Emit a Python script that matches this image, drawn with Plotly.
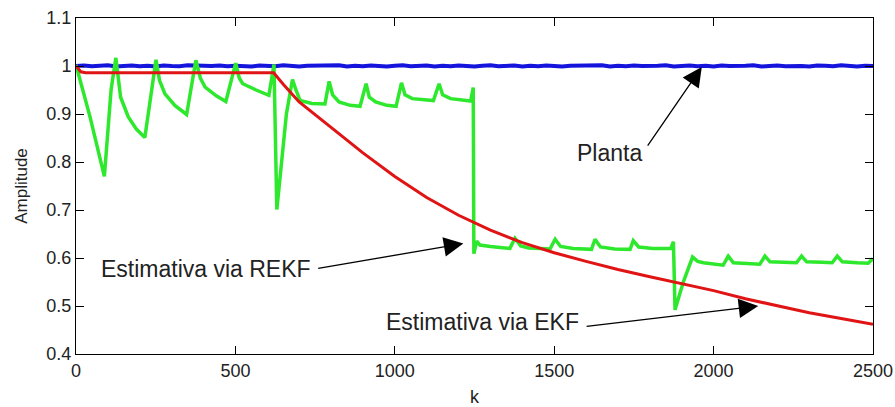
import plotly.graph_objects as go

# ---------------- data ----------------
# Planta (blue): nearly constant ~1 with slight jitter, sampled every 25 k
blue_k = list(range(0, 2501, 25))
blue_v = [1.000, 1.001, 0.9995, 1.0005, 1.0015, 0.999, 1.000, 1.001, 0.9995, 1.0005,
          0.999, 1.001, 1.000, 0.9995, 1.0015, 1.0005, 0.999, 1.000, 1.001, 0.9995,
          1.0005, 1.000, 0.999, 1.001, 1.0005, 0.9995, 1.0015, 1.000, 0.999, 1.0005,
          1.001, 0.9995, 1.000, 1.0015, 0.999, 1.0005, 0.9995, 1.001, 1.000, 0.999,
          1.0005, 1.0015, 0.9995, 1.000, 1.001, 0.999, 1.0005, 0.9995, 1.001, 1.000,
          0.999, 1.0005, 1.0015, 0.9995, 1.000, 1.001, 0.999, 1.0005, 0.9995, 1.001,
          1.000, 0.999, 1.0005, 1.001, 0.9995, 1.000, 1.0015, 0.999, 1.0005, 0.9995,
          1.001, 1.000, 0.9995, 1.0005, 1.0015, 0.999, 1.000, 1.001, 0.9995, 1.0005,
          0.999, 1.001, 1.000, 0.9995, 1.0005, 1.0015, 0.999, 1.000, 1.001, 0.9995,
          1.0005, 1.000, 0.999, 1.001, 1.0005, 0.9995, 1.0015, 1.000, 0.999, 1.0005, 1.000]

# Estimativa via EKF (red)
red_k = [0, 15, 30, 620, 650, 700, 800, 900, 1000, 1100, 1200, 1300, 1400, 1500,
         1600, 1700, 1800, 1900, 2000, 2100, 2200, 2300, 2400, 2500]
red_v = [1.000, 0.988, 0.986, 0.986, 0.962, 0.925, 0.872, 0.819, 0.770, 0.726,
         0.689, 0.658, 0.632, 0.611, 0.593, 0.576, 0.561, 0.547, 0.532, 0.515,
         0.500, 0.486, 0.474, 0.462]

# Estimativa via REKF (green)
green_k = [0, 5, 44, 89, 110, 125, 140, 164, 190, 216, 251,
           262, 279, 310, 347, 376,
           390, 405, 440, 470, 501,
           512, 523, 565, 605, 621,
           630, 660, 679,
           690, 703, 740, 781, 794,
           805, 825, 860, 891, 910,
           920, 940, 975, 1004, 1021,
           1032, 1055, 1090, 1121, 1139,
           1150, 1175, 1210, 1238, 1246, 1248,
           1257, 1267, 1300, 1361, 1377, 1395, 1420, 1487, 1503, 1520, 1560,
           1617, 1628, 1645, 1690, 1738, 1748, 1765, 1810, 1866, 1874, 1879,
           1905, 1934, 1950, 1968, 2030, 2046, 2062, 2100, 2145, 2161, 2177,
           2220, 2260, 2276, 2292, 2340, 2372, 2388, 2404, 2450, 2485, 2500]
green_v = [1.002, 0.990, 0.894, 0.770, 0.950, 1.017, 0.935, 0.894, 0.868, 0.851, 1.013,
           0.970, 0.942, 0.918, 0.899, 1.012,
           0.975, 0.956, 0.938, 0.926, 1.006,
           0.975, 0.963, 0.950, 0.939, 1.003,
           0.701, 0.900, 0.972,
           0.950, 0.928, 0.922, 0.921, 0.968,
           0.940, 0.925, 0.918, 0.916, 0.963,
           0.935, 0.925, 0.918, 0.916, 0.965,
           0.940, 0.932, 0.929, 0.928, 0.963,
           0.940, 0.932, 0.929, 0.927, 0.955, 0.609,
           0.635, 0.627, 0.624, 0.620, 0.641, 0.625, 0.621, 0.619, 0.639, 0.624, 0.620,
           0.618, 0.639, 0.623, 0.619, 0.618, 0.636, 0.623, 0.620, 0.620, 0.634, 0.492,
           0.550, 0.602, 0.593, 0.590, 0.585, 0.604, 0.590, 0.588, 0.587, 0.604, 0.592,
           0.591, 0.590, 0.604, 0.592, 0.591, 0.590, 0.604, 0.592, 0.590, 0.589, 0.599]

x_ticks = [0, 500, 1000, 1500, 2000, 2500]
y_ticks = [0.4, 0.5, 0.6, 0.7, 0.8, 0.9, 1.0, 1.1]
y_ticktext = ["0.4", "0.5", "0.6", "0.7", "0.8", "0.9", "1", "1.1"]

FONT = "Liberation Sans, Arial, sans-serif"

fig = go.Figure()
fig.add_trace(go.Scatter(x=blue_k, y=blue_v, mode="lines",
                         line=dict(color="#1414dc", width=4), name="Planta"))
fig.add_trace(go.Scatter(x=green_k, y=green_v, mode="lines",
                         line=dict(color="#2ee82e", width=3.5), name="REKF"))
fig.add_trace(go.Scatter(x=red_k, y=red_v, mode="lines",
                         line=dict(color="#e01414", width=3), name="EKF"))

# arrows (tip x,y ; tail ax,ay)
arrows = [
    dict(x=1963, y=0.998, ax=1790, ay=0.831),
    dict(x=1215, y=0.630, ax=755, ay=0.578),
    dict(x=2140, y=0.500, ax=1597, ay=0.457),
]
for a in arrows:
    fig.add_annotation(x=a["x"], y=a["y"], ax=a["ax"], ay=a["ay"],
                       xref="x", yref="y", axref="x", ayref="y",
                       text="", showarrow=True, arrowhead=2, arrowsize=3.0,
                       arrowwidth=1.3, arrowcolor="black", standoff=0, startstandoff=0)

labels = [
    dict(x=1781, y=0.818, text="Planta"),
    dict(x=743, y=0.577, text="Estimativa via REKF"),
    dict(x=1584, y=0.466, text="Estimativa via EKF"),
]
for t in labels:
    fig.add_annotation(x=t["x"], y=t["y"], xref="x", yref="y", text=t["text"],
                       showarrow=False, xanchor="right", yanchor="middle",
                       font=dict(family=FONT, size=23, color="#222222"))

# x-axis title "k" placed below the tick labels
fig.add_annotation(x=0.5, y=-0.128, xref="paper", yref="paper", text="k",
                   showarrow=False, xanchor="center", yanchor="middle",
                   font=dict(family=FONT, size=18, color="#222222"))

axis_common = dict(showline=True, linecolor="black", linewidth=1, mirror="allticks",
                   ticks="inside", ticklen=8, tickwidth=1, tickcolor="black",
                   showgrid=False, zeroline=False, automargin=False,
                   tickfont=dict(family=FONT, size=18, color="#222222"))

fig.update_xaxes(range=[0, 2500], tickvals=x_ticks, ticktext=[str(v) for v in x_ticks],
                 **axis_common)
fig.update_yaxes(range=[0.4, 1.1], tickvals=y_ticks, ticktext=y_ticktext,
                 title=dict(text="Amplitude", font=dict(family=FONT, size=17, color="#222222"), standoff=14),
                 **axis_common)

fig.update_layout(width=895, height=407, margin=dict(l=76, r=22, t=18, b=53),
                  paper_bgcolor="white", plot_bgcolor="white", showlegend=False)

fig.write_html("out.html")
